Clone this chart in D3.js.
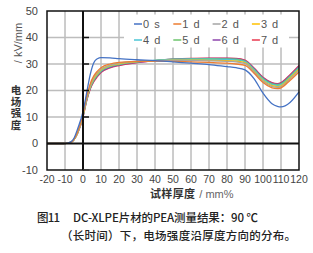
<!DOCTYPE html>
<html><head><meta charset="utf-8">
<script src="https://cdn.jsdelivr.net/npm/d3@7"></script>
<style>body{margin:0;background:#fff}svg{display:block}</style>
</head><body>
<svg id="c" width="313" height="253"></svg>
<script>
const xs = [-20,-10,-7,-5,-3,0,2,4,6,8,10,15,20,30,40,50,60,70,80,85,90,95,100,105,108,110,115,120];
const seriesNames = ["0 s","1 d","2 d","3 d","4 d","5 d","6 d","7 d"];
const seriesColors = ["#4472c4","#ed7d31","#a5a5a5","#ffc000","#4bc6d6","#6cc46c","#8e44ad","#e8384f"];
const s0s = [0,0,0.5,2,5.5,12,19,26,30.5,32,32.4,32.3,32,31.6,31.3,30.8,30.3,29.8,29.0,28.6,27.8,24.5,19,15,14,13.8,15.5,19.5];
const s1d = [0,0,0.4,1.6,4.3,11,17.5,22.5,25.5,27.3,28.6,30,30.6,31,31.1,31,30.8,30.6,30.3,30,29.5,26.5,23,21,20.7,21,23.8,27];
const s2d = [0,0,0.4,1.6,4.2,10.8,17.2,22,25,26.8,28.1,29.6,30.3,31,31.3,31.4,31.3,31.2,31.0,30.8,30.2,27,23.5,21.5,21.2,21.5,24.3,27.6];
const s3d = [0,0,0.4,1.5,4.1,10.6,16.9,21.6,24.6,26.4,27.8,29.4,30.1,30.9,31.3,31.5,31.5,31.4,31.3,31.1,30.5,27.3,23.8,21.8,21.5,21.8,24.7,28];
const s4d = [0,0,0.4,1.5,4.0,10.4,16.6,21.3,24.2,26.1,27.5,29.2,30,30.9,31.4,31.7,31.8,31.8,31.7,31.5,30.9,27.8,24.2,22.2,21.9,22.2,25.1,28.5];
const s5d = [0,0,0.4,1.5,4.0,10.3,16.4,21,23.9,25.8,27.3,29,29.8,30.8,31.4,31.8,31.9,32,31.9,31.8,31.1,28,24.5,22.5,22.2,22.5,25.4,28.8];
const s6d = [0,0,0.4,1.5,3.9,10.1,16.2,20.7,23.6,25.5,27,28.7,29.6,30.6,31.3,31.8,32,32.1,32.1,32,31.3,28.3,24.8,22.8,22.4,22.8,25.7,29.2];
const s7d = [0,0,0.4,1.5,3.9,10,16,20.5,23.3,25.2,26.8,28.5,29.4,30.5,31.3,31.8,32.1,32.2,32.2,32.1,31.5,28.5,25,23,22.6,23,26,29.5];
const seriesValues = [s0s,s1d,s2d,s3d,s4d,s5d,s6d,s7d];
const xTicks = [-20,-10,0,10,20,30,40,50,60,70,80,90,100,110,120];
const yTicks = [-10,0,10,20,30,40,50];

const svg = d3.select("#c");
const x = d3.scaleLinear().domain([-20,120]).range([47,299]);
const y = d3.scaleLinear().domain([-10,50]).range([170,11]);
const font = "'Liberation Sans', Arial, sans-serif";
const cjk = "'Noto Sans CJK SC', sans-serif";

// gridlines
svg.append("g").selectAll("line").data(xTicks.filter(d=>d>-20&&d<120&&d!==0)).join("line")
  .attr("x1",d=>x(d)).attr("x2",d=>x(d)).attr("y1",y(50)).attr("y2",y(-10))
  .attr("stroke","#9a9a9a").attr("stroke-width",1);
svg.append("g").selectAll("line").data(yTicks.filter(d=>d>-10&&d<50&&d!==0)).join("line")
  .attr("x1",x(-20)).attr("x2",x(120)).attr("y1",d=>y(d)).attr("y2",d=>y(d))
  .attr("stroke","#bdbdbd").attr("stroke-width",1.5);

// lines
const line = d3.line().x((d,i)=>x(xs[i])).y(d=>y(d)).curve(d3.curveMonotoneX);
svg.append("g").selectAll("path").data(seriesValues.slice().reverse()).join("path")
  .attr("d",d=>line(d)).attr("fill","none")
  .attr("stroke",(d,i)=>seriesColors[seriesValues.length-1-i]).attr("stroke-width",1.3);

// zero axes
svg.append("line").attr("x1",x(-20)).attr("x2",x(120)).attr("y1",y(0)).attr("y2",y(0))
  .attr("stroke","#111").attr("stroke-width",2);
svg.append("line").attr("x1",x(0)).attr("x2",x(0)).attr("y1",y(50)).attr("y2",y(-10))
  .attr("stroke","#111").attr("stroke-width",2);
svg.append("g").selectAll("line").data(yTicks.filter(d=>d!==0&&d!==50)).join("line")
  .attr("x1",x(0)).attr("x2",x(0)+6).attr("y1",d=>y(d)).attr("y2",d=>y(d))
  .attr("stroke",d=>d===-10?"#aaa":"#111").attr("stroke-width",1.5);

// frame
svg.append("rect").attr("x",x(-20)).attr("y",y(50)).attr("width",x(120)-x(-20)).attr("height",y(-10)-y(50))
  .attr("fill","none").attr("stroke","#111").attr("stroke-width",1.5);

// legend
svg.append("rect").attr("x",124).attr("y",14.5).attr("width",165).attr("height",33).attr("fill","#fff");
const lg = svg.append("g").selectAll("g").data(seriesNames).join("g")
  .attr("transform",(d,i)=>`translate(${134+(i%4)*39.3},${i<4?24:40})`);
lg.append("line").attr("x1",0).attr("x2",8).attr("stroke",(d,i)=>seriesColors[i]).attr("stroke-width",1.5);
lg.append("text").attr("x",9).attr("dy","0.35em").text(d=>d)
  .attr("font-family",font).attr("font-size",11).attr("letter-spacing",1).attr("fill","#555");

// tick labels
svg.append("g").selectAll("text").data(yTicks).join("text")
  .attr("x",38).attr("y",d=>y(d)).attr("dy","0.35em").attr("text-anchor","end")
  .attr("font-family",font).attr("font-size",11).attr("fill","#444").text(d=>d);
svg.append("g").selectAll("text").data(xTicks).join("text")
  .attr("x",d=>x(d)).attr("y",179.5).attr("dy","0.35em").attr("text-anchor","middle")
  .attr("font-family",font).attr("font-size",10.5).attr("fill","#444").text(d=>d);

// axis titles
svg.append("text").attr("transform","translate(18,43) rotate(-90)").attr("text-anchor","middle")
  .attr("dy","0.35em").attr("font-family",font).attr("font-size",11).attr("fill","#555").text("/ kV/mm");
svg.append("text").attr("x",16).attr("y",84.5)
  .style("writing-mode","vertical-rl").attr("letter-spacing",1.3)
  .attr("font-family",cjk).attr("font-size",10.5).attr("font-weight",700).attr("fill","#333").text("电场强度");
const xt = svg.append("text").attr("x",150).attr("y",192.5).attr("dy","0.35em");
xt.append("tspan").attr("font-family",cjk).attr("font-size",11).attr("font-weight",700).attr("fill","#333")
  .attr("textLength",45).attr("lengthAdjust","spacing").text("试样厚度");
xt.append("tspan").attr("dx",4).attr("font-family",font).attr("font-size",11).attr("fill","#666").text("/ mm%");

// caption
const capStyle = s => s.attr("font-family",cjk).attr("font-size",11.5).attr("font-weight",500).attr("fill","#222")
  .attr("dy","0.35em").attr("lengthAdjust","spacing");
svg.append("text").attr("x",37).attr("y",218).attr("textLength",23).call(capStyle).text("图11");
svg.append("text").attr("x",73).attr("y",218).attr("textLength",185).call(capStyle).text("DC-XLPE片材的PEA测量结果：90 ℃");
svg.append("text").attr("x",61).attr("y",236).attr("textLength",235).call(capStyle).text("（长时间）下，电场强度沿厚度方向的分布。");
</script>
</body></html>
